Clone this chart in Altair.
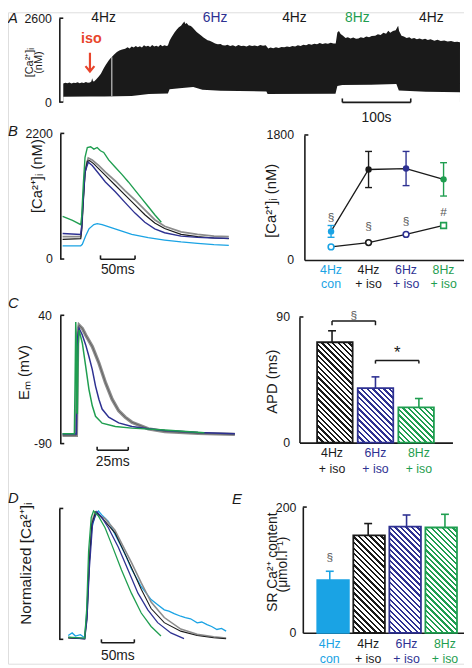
import altair as alt
import pandas as pd

FONT = "Liberation Sans"
BLACK = "#1a1a1a"
GRAY = "#8c8c8c"
LBLUE = "#1aa3e4"
DBLUE = "#2e3192"
GREEN = "#1f9e50"
RED = "#e8452c"
ANNO = "#555555"

# ---------------- Panel A : continuous [Ca2+]i record (time s, nM) ----------------
a_up_t = [0, 3, 6, 9, 12, 15, 18, 21, 24, 27, 30, 33, 36, 39, 41, 42.3, 43.5, 45,
          48, 51.9, 55, 59, 62, 66.4, 69, 71, 74, 78.4, 82, 86, 90.5,
          94, 97, 100, 103, 106, 109, 112, 115, 118, 121, 124, 127, 130, 133, 136, 139, 142, 145, 148, 151, 153,
          155.4, 158, 162.6, 166, 169, 172.2, 174, 177, 178.5, 180.4, 183, 186.6, 189, 192, 195, 198.7, 202, 205,
          207.8, 211, 214, 217.9, 222, 226, 230, 233, 236.7,
          240, 244, 248, 252, 256, 260, 264, 268, 272, 276, 280, 284, 288, 292, 296,
          299.7, 303, 307, 311, 315, 319, 323, 327, 331, 335, 339, 343, 347, 351, 355, 359, 363, 367, 371, 375,
          379, 383, 387, 391, 395, 398.3,
          400.7, 403, 405.5, 409, 412.7, 416, 420, 424, 428, 431.5, 435, 439, 443, 447, 451, 456, 460, 464, 468,
          472, 475.2, 478, 482, 486, 489.6, 491,
          494.5, 498, 502, 506, 509, 513, 517, 521, 525, 529, 533, 537, 542.6, 547, 552, 557, 562, 567, 572, 576, 580]
a_up_v = [575, 600, 585, 610, 580, 600, 590, 615, 585, 605, 595, 620, 600, 610, 640, 740, 650, 640,
          700, 790, 880, 1040, 1150, 1290, 1360, 1400, 1470, 1550, 1600, 1630, 1650,
          1700, 1665, 1720, 1690, 1740, 1700, 1730, 1695, 1760, 1720, 1750, 1710, 1770, 1725, 1745, 1715, 1780,
          1730, 1760, 1740, 1755,
          1900, 2000, 2160, 2250, 2320, 2370, 2420, 2500, 2420, 2450, 2380, 2360, 2310, 2240, 2170, 2110, 2060,
          2000, 1960, 1920, 1900, 1860, 1820, 1790, 1800, 1760, 1755,
          1780, 1735, 1760, 1725, 1770, 1735, 1750, 1720, 1765, 1740, 1755, 1730, 1770, 1745, 1760,
          1660, 1690, 1670, 1700, 1680, 1710, 1700, 1725, 1705, 1740, 1720, 1760, 1735, 1775, 1760, 1800, 1780,
          1810, 1790, 1830, 1800, 1825, 1810, 1840, 1815, 1820,
          2160, 2200, 2110, 2060, 1990, 2010, 1970, 2000, 1960, 1975, 2010, 1985, 2030, 2010, 2050, 2060, 2100,
          2080, 2150, 2120, 2210, 2150, 2200, 2230, 2370, 2200,
          2060, 2030, 1990, 2010, 1960, 1990, 1950, 1975, 1940, 1960, 1925, 1950, 1905, 1930, 1890, 1910, 1875,
          1895, 1860, 1870, 1855]
a_lo_t = [0, 40, 60, 100, 125, 153, 155.4, 170, 186, 190, 203.5, 230, 297, 298.7, 398, 400.7, 408, 450,
          487, 490.6, 530, 580]
a_lo_v = [165, 170, 175, 190, 255, 270, 395, 430, 460, 470, 380, 350, 330, 255, 262, 500, 530, 540,
          560, 360, 320, 305]
a_gap_t = [71]
a_gap_lo = [190]
a_gap_hi = [1390]
a_freq_t = [59, 222, 338, 430, 538]
a_freq = ["4Hz", "6Hz", "4Hz", "8Hz", "4Hz"]
a_iso_t = [41]
a_arrow_t = [39]
a_arrow_top = [1530]
a_arrow_tip = [950]
a_bar_t = [408, 508]

# ---------------- Panel B left : averaged transients (ms, nM) ----------------
b_con_t = [0.5, 26.7, 29, 33.8, 38.6, 45.7, 50.5, 57.6, 71.9, 86.2, 100.5, 124.3, 148.1, 171.9, 195.7, 219.5, 241]
b_con_v = [230, 232, 258, 402, 528, 603, 620, 603, 546, 488, 431, 373, 333, 299, 276, 253, 241]
b_gry_t = [0.5, 26.7, 28.1, 30.5, 32.9, 37.6, 43.3, 52.9, 62.4, 76.7, 91, 105.2, 119.5, 133.8, 148.1, 171.9,
           195.7, 219.5, 241]
b_gry_v = [391, 391, 545, 1091, 1551, 1769, 1735, 1637, 1522, 1367, 1195, 1034, 862, 689, 574, 477, 431, 402, 391]
b_blk_t = [0.5, 26.7, 28.1, 30.5, 32.9, 36.2, 39.5, 45.7, 52.9, 62.4, 76.7, 91, 105.2, 119.5, 133.8, 148.1,
           171.9, 195.7, 219.5, 241]
b_blk_v = [345, 356, 517, 1034, 1493, 1712, 1723, 1666, 1580, 1465, 1292, 1120, 948, 775, 632, 534, 431, 391,
           368, 356]
b_blu_t = [0.5, 26.7, 28.1, 30.5, 32.9, 37.6, 43.3, 52.9, 62.4, 76.7, 91, 105.2, 119.5, 133.8, 148.1, 171.9,
           195.7, 219.5, 241]
b_blu_v = [448, 431, 574, 1091, 1522, 1695, 1637, 1493, 1350, 1178, 988, 804, 643, 528, 460, 402, 379, 368, 362]
b_grn_t = [0.5, 14.8, 26.7, 28.1, 30.5, 32.9, 36.2, 41, 45.7, 50.5, 55.2, 60, 67.1, 76.7, 86.2, 95.7, 105.2,
           114.8, 124.3, 133.8, 143.3]
b_grn_v = [747, 678, 603, 747, 1321, 1781, 1953, 1965, 1924, 1953, 1896, 1867, 1735, 1608, 1482, 1350, 1206,
           1063, 919, 775, 643]
b_bar_t = [55.3, 105.3]

# ---------------- Panel B right : systolic / diastolic ----------------
br_idx = [0, 1, 2, 3]
br_cat = ["4Hz con", "4Hz iso", "6Hz iso", "8Hz iso"]
br_sys = [412, 1303, 1317, 1161]
br_sys_err = [85, 260, 246, 240]
br_dia = [189, 251, 369, 497]
br_note = ["§", "§", "§", "#"]
br_note_v = [625, 483, 554, 696]
cat_l1 = ["4Hz", "4Hz", "6Hz", "8Hz"]
cat_l2 = ["con", "+ iso", "+ iso", "+ iso"]
cat_colors = [LBLUE, BLACK, DBLUE, GREEN]

# ---------------- Panel C left : action potentials (ms, mV) ----------------
c_gry_t = [0, 11.1, 11.7, 12.2, 13.3, 15.9, 18.6, 23.9, 29.2, 34.5, 39.8, 45.1, 50.4, 55.7, 69, 82.2, 108.8, 138.5]
c_gry_v = [-81.7, -81.7, -25, 21.7, 30, 26.7, 20, 8.3, -8.3, -28.3, -45, -56.7, -63.3, -68.3, -75, -77.7,
           -79.7, -80.7]
c_blu_t = [0, 11.1, 11.7, 12.2, 13.3, 15.9, 18.6, 21.2, 23.9, 26.5, 29.2, 31.8, 37.1, 45.1, 55.7, 69, 82.2,
           108.8, 138.5]
c_blu_v = [-80.3, -80.3, -25, 18.3, 26.7, 20, 10, -1.7, -15, -31.7, -45, -55, -63.3, -69, -72.7, -75, -76.7,
           -78.7, -80]
c_grn_t = [0, 9.5, 10.1, 10.6, 11.1, 11.4, 11.9, 12.5, 13.3, 15.9, 18.6, 21.2, 23.9, 26.5, 31.8, 42.4, 55.7,
           82.2, 114]
c_grn_v = [-80, -80, -25, 33.3, 8.3, -58, -60, 8.3, 25, 11.7, -11.7, -35, -51.7, -62.3, -69.3, -72.7, -74.3,
           -76.3, -79]
c_bar_t = [27.8, 52.8]

# ---------------- Panel C right : APD ----------------
cr_idx = [0, 1, 2]
cr_cat = ["4Hz iso", "6Hz iso", "8Hz iso"]
cr_apd = [71.9, 39.1, 25.2]
cr_err = [8.2, 8.0, 6.4]
cr_br_x0 = [0, 1]
cr_br_x1 = [1, 2]
cr_br_top = [87.2, 58.9]
cr_br_leg = [84.1, 56.6]
cr_br_sym = ["§", "*"]
cr_br_sym_v = [91.5, 63.8]

# ---------------- Panel D : normalised transients ----------------
d_con_t = [0, 6, 11, 18.5, 25, 28.5, 32, 36, 41, 46, 51, 61, 71, 81, 88.5, 96, 111, 126, 136, 146, 153, 161, 171,
           178, 186, 196, 203, 211, 218, 226, 233, 240]
d_con_v = [0.03, 0.05, 0.026, 0.036, 0.013, 0.23, 0.615, 0.87, 0.97, 1.0, 0.97, 0.92, 0.82, 0.72, 0.64, 0.55,
           0.41, 0.31, 0.27, 0.23, 0.22, 0.2, 0.18, 0.17, 0.16, 0.128, 0.135, 0.115, 0.1, 0.077, 0.085, 0.064]
d_gry_t = [0, 25, 28.5, 32, 36, 41, 46, 56, 71, 86, 96, 111, 126, 146, 171, 196, 221, 240]
d_gry_v = [0.013, 0.005, 0.18, 0.615, 0.92, 0.99, 0.97, 0.94, 0.85, 0.70, 0.6, 0.44, 0.29, 0.17, 0.08, 0.04,
           0.02, 0.01]
d_blk_t = [0, 25, 28.5, 32, 36, 42, 48.5, 56, 71, 86, 96, 111, 126, 146, 171, 196, 221, 240]
d_blk_v = [0.01, 0.005, 0.18, 0.59, 0.9, 0.995, 0.96, 0.92, 0.83, 0.67, 0.56, 0.39, 0.24, 0.13, 0.064, 0.03,
           0.013, 0.005]
d_blu_t = [0, 25, 28.5, 32, 37, 43.5, 51, 61, 76, 91, 106, 121, 136, 156, 176]
d_blu_v = [0.015, 0.005, 0.154, 0.54, 0.9, 0.995, 0.95, 0.87, 0.72, 0.54, 0.36, 0.23, 0.13, 0.05, 0.005]
d_grn_t = [0, 25, 28, 31, 35, 38.5, 46, 56, 66, 81, 96, 111, 126, 141]
d_grn_v = [0.018, 0.01, 0.23, 0.69, 0.95, 1.0, 0.96, 0.87, 0.74, 0.54, 0.36, 0.205, 0.1, 0.026]
d_bar_t = [50.5, 100.5]

# ---------------- Panel E : SR Ca content ----------------
e_idx = [0, 1, 2, 3]
e_val = [83.8, 155, 169, 167.5]
e_err = [14.1, 18.8, 18.4, 21]
e_note_v = [120]

# ---------------- axis titles (text) ----------------
titles = [  # (text, font size, baseline x, centre y) in view pixels
    ("[Ca²⁺]ᵢ", 11, 25.5, 51),
    ("(nM)", 11, 34.3, 51),
    ("[Ca²⁺]ᵢ (nM)", 15, 34, 166),
    ("[Ca²⁺]ᵢ (nM)", 15, 272, 191),
    ("Eₘ (mV)", 15, 21.5, 365),
    ("APD (ms)", 15, 272.5, 374.3),
    ("Normalized [Ca²⁺]ᵢ", 15.5, 23.5, 558.7),
    ("SR Ca²⁺ content", 14, 272.3, 557),
    ("(μmol.l⁻¹)", 14, 283, 559.5),
]

# ======================= canvas & panel frames (pixels in the single view) =======================
CW, CH = 462, 660
FR = {  # panel: (x-range, y-range(bottom, top), x-domain, y-domain)
    "A": ([52, 458], [91, 6], [-5.77, 580.1], [0, 2600]),
    "BL": ([53, 224], [250, 122.7], [-2.86, 241.4], [0, 2200]),
    "BR": ([300.3, 462.3], [251, 124.3], [-0.7105, 3.5526], [0, 1800]),
    "CL": ([53, 230], [437, 307], [-1.8, 138.6], [-90, 40]),
    "CR": ([295.3, 450.3], [436, 308.7], [-0.75, 2.7727], [0, 90]),
    "D": ([52, 221], [635.3, 502.7], [-13.5, 240], [0, 1.02]),
    "E": ([298.7, 462], [628.7, 501.3], [-0.702, 3.496], [0, 200]),
}


def XS(p):
    r, _, d, _ = FR[p]
    return alt.Scale(domain=d, range=r, nice=False, zero=False)


def YS(p):
    _, r, _, d = FR[p]
    return alt.Scale(domain=d, range=r, nice=False, zero=False)


def X(field, p, axis=None):
    return alt.X(field, scale=XS(p), axis=axis)


def Y(field, p, axis=None):
    return alt.Y(field, scale=YS(p), axis=axis, stack=None)


def yaxis(p, values, pad=8, labels=True, expr=None):
    x0 = FR[p][0][0]
    kw = dict(orient="left", offset=-x0, values=values, title=None, labelFont=FONT, labelFontSize=12.5,
              labelColor=BLACK, labelPadding=pad, labels=labels, ticks=False, grid=False,
              domainColor=BLACK, domainWidth=1.6, format="d")
    if expr:
        kw["labelExpr"] = expr
    return alt.Axis(**kw)


def xline(p):
    y0 = FR[p][1][0]
    return alt.Axis(orient="bottom", offset=y0 - CH, labels=False, ticks=False, title=None, grid=False,
                    domainColor=BLACK, domainWidth=1.6)


def one(**cols):
    return pd.DataFrame(cols)


def trace(t, v, color, p, width=1.3, axis=None):
    return alt.Chart(one(t=t, v=v)).mark_line(color=color, strokeWidth=width).encode(
        x=X("t:Q", p), y=Y("v:Q", p, axis))


def inticks(vals, p):
    x0 = FR[p][0][0]
    return alt.Chart(one(v=vals)).mark_rule(color=BLACK, strokeWidth=1.6).encode(
        y=Y("v:Q", p), x=alt.value(x0), x2=alt.value(x0 + 4))


def letter(s, x, y):
    return alt.Chart(one(s=[s])).mark_text(font=FONT, fontSize=15, fontStyle="italic", align="left",
                                           baseline="alphabetic", color=BLACK).encode(
        x=alt.value(x), y=alt.value(y), text="s:N")


def vtitle(s, fs, bx, cy):
    return alt.Chart(one(s=[s])).mark_text(font=FONT, fontSize=fs, angle=270, align="center",
                                           baseline="alphabetic", color=BLACK).encode(
        x=alt.value(bx), y=alt.value(cy), text="s:N")


def scalebar(ts, label, p, ybar, ytxt, tick=4):
    bar = alt.Chart(one(a=[ts[0]], b=[ts[1]])).mark_rule(color=BLACK, strokeWidth=1.6).encode(
        x=X("a:Q", p), x2="b:Q", y=alt.value(ybar))
    ends = alt.Chart(one(a=ts)).mark_rule(color=BLACK, strokeWidth=1.6).encode(
        x=X("a:Q", p), y=alt.value(ybar), y2=alt.value(ybar - tick))
    txt = alt.Chart(one(a=[(ts[0] + ts[1]) / 2], s=[label])).mark_text(
        font=FONT, fontSize=14, color=BLACK, baseline="middle").encode(
        x=X("a:Q", p), y=alt.value(ytxt), text="s:N")
    return [bar, ends, txt]


def hatch(color, w, h, period=5.6, duty=0.42):
    n = max(1, int(round((w + h) / period)))
    s = (w + h) / (w * w + h * h)
    stops = []
    for k in range(n):
        a, b, c = k / n, (k + duty) / n, (k + 1) / n
        stops += [{"offset": a, "color": color}, {"offset": b, "color": color},
                  {"offset": b, "color": "white"}, {"offset": c, "color": "white"}]
    return {"gradient": "linear", "x1": 0, "y1": 1, "x2": s * w, "y2": 1 - s * h, "stops": stops}


def bars(idx, vals, errs, colors, p, bw, solid=()):
    yr, yd = FR[p][1], FR[p][3]
    ppu = (yr[0] - yr[1]) / (yd[1] - yd[0])
    out = []
    for i, v, e, c in zip(idx, vals, errs, colors):
        fill = c if i in solid else hatch(c, bw, v * ppu)
        out.append(alt.Chart(one(i=[i], v=[v])).mark_bar(
            orient="vertical", size=bw, fill=fill, stroke=c, strokeWidth=1.8, opacity=1).encode(
            x=X("i:Q", p), y=Y("v:Q", p), y2=alt.datum(0)))
        out.append(alt.Chart(one(i=[i], v=[v], t=[v + e])).mark_rule(color=c, strokeWidth=1.6).encode(
            x=X("i:Q", p), y=Y("v:Q", p), y2="t:Q"))
        out.append(alt.Chart(one(i=[i], t=[v + e])).mark_point(
            shape="M-1,0L1,0", size=64, filled=False, color=c, strokeWidth=1.6, opacity=1).encode(
            x=X("i:Q", p), y=Y("t:Q", p)))
    return out


def catlabels(idx, cats, l1, l2, colors, p, y1, y2, fs=12.5):
    df = one(i=idx, c=cats, l1=l1, l2=l2)
    cs = alt.Color("c:N", scale=alt.Scale(domain=cats, range=colors), legend=None)
    t1 = alt.Chart(df).mark_text(font=FONT, fontSize=fs, baseline="middle").encode(
        x=X("i:Q", p), y=alt.value(y1), text="l1:N", color=cs)
    t2 = alt.Chart(df).mark_text(font=FONT, fontSize=fs, baseline="middle").encode(
        x=X("i:Q", p), y=alt.value(y2), text="l2:N", color=cs)
    return [t1, t2]


layers = []

# ======================= Panel A =======================
layers += [
    alt.Chart(one(t=a_up_t, v=a_up_v)).mark_area(color=BLACK, opacity=1).encode(
        x=X("t:Q", "A"), y=Y("v:Q", "A", yaxis("A", [0, 2600], pad=8)), y2=alt.datum(0)),
    alt.Chart(one(t=a_lo_t, v=a_lo_v)).mark_area(color="white", opacity=1).encode(
        x=X("t:Q", "A"), y=Y("v:Q", "A"), y2=alt.datum(-40)),
    alt.Chart(one(t=a_gap_t, lo=a_gap_lo, hi=a_gap_hi)).mark_rule(color="white", strokeWidth=0.9).encode(
        x=X("t:Q", "A"), y=Y("lo:Q", "A"), y2="hi:Q"),
    inticks([0, 2600], "A"),
    alt.Chart(one(t=a_freq_t, f=a_freq)).mark_text(font=FONT, fontSize=14, baseline="middle").encode(
        x=X("t:Q", "A"), y=alt.value(6), text="f:N",
        color=alt.Color("f:N", scale=alt.Scale(domain=["4Hz", "6Hz", "8Hz"], range=[BLACK, DBLUE, GREEN]),
                        legend=None)),
    alt.Chart(one(t=a_iso_t, s=["iso"])).mark_text(font=FONT, fontSize=14.5, fontWeight="bold", color=RED,
                                                  baseline="middle").encode(
        x=X("t:Q", "A"), y=alt.value(27), text="s:N"),
    alt.Chart(one(t=a_arrow_t, a=a_arrow_top, b=a_arrow_tip)).mark_rule(color=RED, strokeWidth=2.2).encode(
        x=X("t:Q", "A"), y=Y("a:Q", "A"), y2="b:Q"),
    alt.Chart(one(t=a_arrow_t, b=a_arrow_tip)).mark_point(
        shape="M-1,-1.2L0,0L1,-1.2", size=81, filled=False, color=RED, strokeWidth=2.2, opacity=1).encode(
        x=X("t:Q", "A"), y=Y("b:Q", "A")),
    letter("A", 0, 11),
] + scalebar(a_bar_t, "100s", "A", 91.3, 107)

# ======================= Panel B left =======================
layers += [
    trace(b_con_t, b_con_v, LBLUE, "BL", 1.3, axis=yaxis("BL", [0, 2200], pad=8)),
    trace(b_gry_t, b_gry_v, GRAY, "BL", 1.8),
    trace(b_blk_t, b_blk_v, BLACK, "BL", 1.2),
    trace(b_blu_t, b_blu_v, DBLUE, "BL", 1.4),
    trace(b_grn_t, b_grn_v, GREEN, "BL", 1.4),
    inticks([0, 2200], "BL"),
    letter("B", 0, 125.3),
] + scalebar(b_bar_t, "50ms", "BL", 250.3, 261)

# ======================= Panel B right =======================
cs_b = alt.Color("c:N", scale=alt.Scale(domain=br_cat, range=cat_colors), legend=None)
df_sys = one(i=br_idx, c=br_cat, v=br_sys, lo=[a - b for a, b in zip(br_sys, br_sys_err)],
             hi=[a + b for a, b in zip(br_sys, br_sys_err)])
df_dia = one(i=br_idx, c=br_cat, v=br_dia)
layers += [
    alt.Chart(df_sys).mark_line(color=BLACK, strokeWidth=1.3).encode(
        x=X("i:Q", "BR", xline("BR")), y=Y("v:Q", "BR", yaxis("BR", [0, 1800], pad=11))),
    alt.Chart(df_dia).mark_line(color=BLACK, strokeWidth=1.3).encode(x=X("i:Q", "BR"), y=Y("v:Q", "BR")),
    alt.Chart(df_sys).mark_rule(strokeWidth=1.4).encode(
        x=X("i:Q", "BR"), y=Y("lo:Q", "BR"), y2="hi:Q", color=cs_b),
    alt.Chart(df_sys).mark_point(shape="M-1,0L1,0", size=49, filled=False, strokeWidth=1.4, opacity=1).encode(
        x=X("i:Q", "BR"), y=Y("lo:Q", "BR"), color=cs_b),
    alt.Chart(df_sys).mark_point(shape="M-1,0L1,0", size=49, filled=False, strokeWidth=1.4, opacity=1).encode(
        x=X("i:Q", "BR"), y=Y("hi:Q", "BR"), color=cs_b),
    alt.Chart(df_sys).mark_point(filled=True, size=42, opacity=1).encode(
        x=X("i:Q", "BR"), y=Y("v:Q", "BR"), color=cs_b),
    alt.Chart(df_dia).mark_point(filled=True, size=34, opacity=1, strokeWidth=1.6).encode(
        x=X("i:Q", "BR"), y=Y("v:Q", "BR"), fill=alt.value("white"),
        stroke=alt.Stroke("c:N", scale=alt.Scale(domain=br_cat, range=cat_colors), legend=None),
        shape=alt.Shape("c:N", scale=alt.Scale(domain=br_cat, range=["circle", "circle", "circle", "square"]),
                        legend=None)),
    alt.Chart(one(i=br_idx, s=br_note, v=br_note_v)).mark_text(font=FONT, fontSize=12, color=ANNO,
                                                             baseline="middle").encode(
        x=X("i:Q", "BR"), y=Y("v:Q", "BR"), text="s:N"),
    inticks([1800], "BR"),
] + catlabels(br_idx, br_cat, cat_l1, cat_l2, cat_colors, "BR", 261.5, 275)

# ======================= Panel C left =======================
neg_expr = "datum.value < 0 ? '-' + format(-datum.value, 'd') : format(datum.value, 'd')"
layers += [
    trace(c_gry_t, c_gry_v, GRAY, "CL", 3.4, axis=yaxis("CL", [-90, 40], pad=9, expr=neg_expr)),
    trace(c_gry_t, c_gry_v, "#5a5a5a", "CL", 0.8),
    trace(c_blu_t, c_blu_v, DBLUE, "CL", 1.5),
    trace(c_grn_t, c_grn_v, GREEN, "CL", 1.5),
    inticks([-90, 40], "CL"),
    letter("C", 0, 299.3),
] + scalebar(c_bar_t, "25ms", "CL", 443.7, 456, tick=3.4)

# ======================= Panel C right =======================
cr_cols = [BLACK, DBLUE, GREEN]
layers += [
    alt.Chart(one(i=cr_idx, v=cr_apd)).mark_point(size=0, opacity=0).encode(
        x=X("i:Q", "CR", xline("CR")), y=Y("v:Q", "CR", yaxis("CR", [0, 90], pad=10))),
] + bars(cr_idx, cr_apd, cr_err, cr_cols, "CR", 36) + [
    alt.Chart(one(a=cr_br_x0, b=cr_br_x1, v=cr_br_top)).mark_rule(color=BLACK, strokeWidth=1.5).encode(
        x=X("a:Q", "CR"), x2="b:Q", y=Y("v:Q", "CR")),
    alt.Chart(one(a=cr_br_x0 + cr_br_x1, v=cr_br_top + cr_br_top, w=cr_br_leg + cr_br_leg)).mark_rule(
        color=BLACK, strokeWidth=1.5).encode(x=X("a:Q", "CR"), y=Y("v:Q", "CR"), y2="w:Q"),
    alt.Chart(one(a=[(cr_br_x0[0] + cr_br_x1[0]) / 2], v=[cr_br_sym_v[0]], s=[cr_br_sym[0]])).mark_text(
        font=FONT, fontSize=12, color=ANNO, baseline="middle").encode(
        x=X("a:Q", "CR"), y=Y("v:Q", "CR"), text="s:N"),
    alt.Chart(one(a=[(cr_br_x0[1] + cr_br_x1[1]) / 2], v=[cr_br_sym_v[1]], s=[cr_br_sym[1]])).mark_text(
        font=FONT, fontSize=17, color=BLACK, baseline="middle").encode(
        x=X("a:Q", "CR"), y=Y("v:Q", "CR"), text="s:N"),
    inticks([90], "CR"),
] + catlabels(cr_idx, cr_cat, cat_l1[1:], cat_l2[1:], cr_cols, "CR", 447, 463)

# ======================= Panel D =======================
layers += [
    trace(d_con_t, d_con_v, LBLUE, "D", 1.3, axis=yaxis("D", [0, 1.02], labels=False)),
    trace(d_gry_t, d_gry_v, GRAY, "D", 1.6),
    trace(d_blk_t, d_blk_v, BLACK, "D", 1.1),
    trace(d_blu_t, d_blu_v, DBLUE, "D", 1.3),
    trace(d_grn_t, d_grn_v, GREEN, "D", 1.3),
    inticks([0, 1.02], "D"),
    letter("D", 0, 497),
] + scalebar(d_bar_t, "50ms", "D", 638.7, 652, tick=3.4)

# ======================= Panel E =======================
layers += [
    alt.Chart(one(i=e_idx, v=e_val)).mark_point(size=0, opacity=0).encode(
        x=X("i:Q", "E", xline("E")), y=Y("v:Q", "E", yaxis("E", [0, 200], pad=7))),
] + bars(e_idx, e_val, e_err, cat_colors, "E", 32, solid=(0,)) + [
    alt.Chart(one(i=[0], v=e_note_v, s=["§"])).mark_text(font=FONT, fontSize=12, color=ANNO,
                                                        baseline="middle").encode(
        x=X("i:Q", "E"), y=Y("v:Q", "E"), text="s:N"),
    inticks([200], "E"),
    letter("E", 227, 498),
] + catlabels(e_idx, br_cat, cat_l1, cat_l2, cat_colors, "E", 640, 655)

# ======================= axis titles =======================
layers += [vtitle(s, fs, bx, cy) for s, fs, bx, cy in titles]

chart = alt.layer(*layers).resolve_scale(
    x="independent", y="independent", color="independent", stroke="independent", shape="independent"
).resolve_axis(x="independent", y="independent").properties(
    width=CW, height=CH, autosize=alt.AutoSizeParams(type="none"), padding=0
).configure_view(stroke=None).configure(font=FONT).configure_text(font=FONT)

chart.save("out.html", embed_options={"renderer": "svg", "actions": False})
